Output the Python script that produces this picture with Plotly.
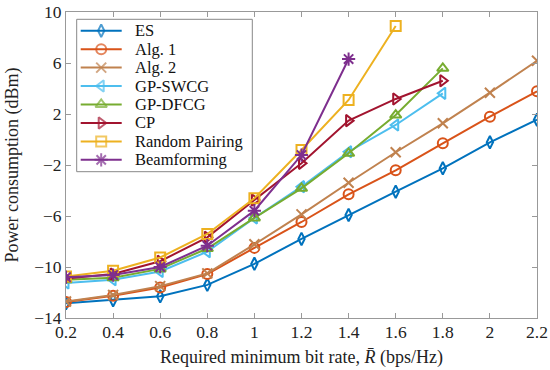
import plotly.graph_objects as go

rates = [0.2, 0.4, 0.6, 0.8, 1.0, 1.2, 1.4, 1.6, 1.8, 2.0, 2.2]
rate_labels = ["0.2", "0.4", "0.6", "0.8", "1", "1.2", "1.4", "1.6", "1.8", "2", "2.2"]
power_ticks = [-14, -10, -6, -2, 2, 6, 10]
power_labels = ["\u221214", "\u221210", "\u22126", "\u22122", "2", "6", "10"]

es = [-12.85, -12.6, -12.3, -11.4, -9.75, -7.8, -5.92, -4.09, -2.26, -0.22, 1.55]
alg1 = [-12.75, -12.25, -11.6, -10.55, -8.5, -6.47, -4.3, -2.42, -0.3, 1.79, 3.78]
alg2 = [-12.7, -12.2, -11.5, -10.5, -8.22, -5.87, -3.39, -1.0, 1.27, 3.67, 6.18]
swcg = [-11.25, -11.0, -10.35, -8.8, -6.15, -3.7, -0.96, 1.14, 3.62]
dfcg = [-11.0, -10.85, -10.15, -8.55, -6.15, -3.83, -1.08, 1.92, 5.58]
cp = [-10.9, -10.55, -9.55, -7.67, -4.75, -1.87, 1.48, 3.18, 4.61]
rp = [-10.75, -10.3, -9.25, -7.41, -4.61, -0.82, 3.1, 8.9]
bf = [-10.8, -10.63, -10.0, -8.33, -5.58, -1.22, 6.31]

names = ["ES", "Alg. 1", "Alg. 2", "GP-SWCG", "GP-DFCG", "CP", "Random Pairing", "Beamforming"]
values = [es, alg1, alg2, swcg, dfcg, cp, rp, bf]
colors = ["#0072BD", "#D95319", "#C0824F", "#4DBEEE", "#77AC30", "#A2142F", "#EDB120", "#7E2F8E"]
symbols = ["diamond-tall-open", "circle-open", "x-thin", "triangle-left-open",
           "triangle-up-open", "triangle-right-open", "square-open", "asterisk-open"]
sizes = [9, 10, 10, 10, 10, 10, 10, 11]

font = "Liberation Serif, Times New Roman, serif"

fig = go.Figure()
for name, vals, color, sym, sz in zip(names, values, colors, symbols, sizes):
    fig.add_trace(go.Scatter(
        x=rates[:len(vals)], y=vals, name=name, mode="lines+markers",
        line=dict(color=color, width=2),
        marker=dict(symbol=sym, size=sz, color=color, line=dict(color=color, width=2)),
        showlegend=False,
    ))

# Custom legend drawn on a pixel-scaled overlay axis (plot area is 471 x 306 px)
PW, PH = 471, 306
box_x0, box_x1, box_y0, box_y1 = 10.7, 186.3, 7.3, 159.7
line_x0, line_x1 = 14.7, 55.7
text_x = 67
row0, row_step = 18.7, 18.45

fig.add_trace(go.Scatter(
    x=[box_x0, box_x1, box_x1, box_x0, box_x0],
    y=[box_y0, box_y0, box_y1, box_y1, box_y0],
    mode="lines", fill="toself", fillcolor="white",
    line=dict(color="#888", width=1), xaxis="x2", yaxis="y2",
    showlegend=False, hoverinfo="skip",
))
for i, (name, color, sym, sz) in enumerate(zip(names, colors, symbols, sizes)):
    yy = row0 + i * row_step
    fig.add_trace(go.Scatter(
        x=[line_x0, (line_x0 + line_x1) / 2, line_x1], y=[yy, yy, yy],
        mode="lines+markers", line=dict(color=color, width=2),
        marker=dict(symbol=sym, size=[0, sz, 0], color=color, line=dict(color=color, width=2)),
        xaxis="x2", yaxis="y2", showlegend=False, hoverinfo="skip",
    ))
    fig.add_annotation(x=text_x, y=yy, xref="x2", yref="y2", text=name,
                       showarrow=False, xanchor="left", yanchor="middle",
                       font=dict(family=font, size=16.5, color="#111"))

axis_common = dict(
    ticks="inside", ticklen=5, tickcolor="#999", mirror="ticks",
    showline=True, linecolor="#999", linewidth=1, showgrid=False, zeroline=False,
    tickfont=dict(family=font, size=17.5, color="#222"),
)

fig.update_layout(
    width=550, height=370,
    margin=dict(l=66, r=13, t=12, b=52, autoexpand=False),
    paper_bgcolor="white", plot_bgcolor="white",
    font=dict(family=font, size=17, color="#222"),
    showlegend=False,
    xaxis=dict(
        range=[0.2, 2.2], tickmode="array", tickvals=rates, ticktext=rate_labels,
        ticklabelstandoff=-2, automargin=False,
        title=dict(text="Required minimum bit rate, <i>R\u0304</i> (bps/Hz)", standoff=9,
                   font=dict(family=font, size=18, color="#222")),
        **axis_common,
    ),
    yaxis=dict(
        range=[-14, 10], tickmode="array", tickvals=power_ticks, ticktext=power_labels,
        automargin=False,
        title=dict(text="Power consumption (dBm)", standoff=10,
                   font=dict(family=font, size=18, color="#222")),
        **axis_common,
    ),
    xaxis2=dict(overlaying="x", range=[0, PW], visible=False, fixedrange=True),
    yaxis2=dict(overlaying="y", range=[PH, 0], visible=False, fixedrange=True),
)
fig.write_html("out.html", config={"displayModeBar": False},
               post_script="document.body.style.margin='0';")
